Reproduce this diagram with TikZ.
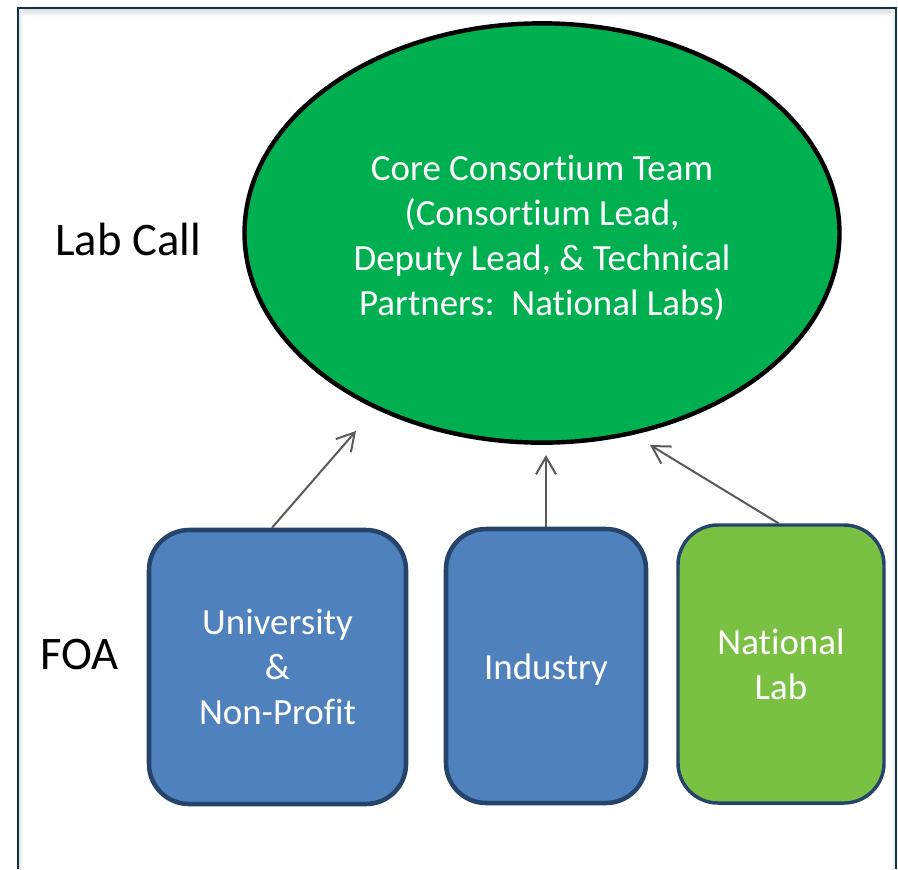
\documentclass[tikz,border=0pt]{standalone}
\usepackage{fontspec}
\setmainfont{Carlito}[Ligatures={NoCommon,NoContextual,NoRare}]
\usetikzlibrary{shapes.geometric,arrows.meta,calc}
\definecolor{framec}{RGB}{14,52,70}
\definecolor{ellfill}{RGB}{0,176,80}
\definecolor{boxblue}{RGB}{79,129,189}
\definecolor{boxgreen}{RGB}{122,193,67}
\definecolor{boxline}{RGB}{38,68,106}
\definecolor{arrc}{RGB}{89,89,89}
\tikzset{
  shapetext/.style={text=white,align=center,font=\fontsize{27.7}{33.75}\selectfont,inner sep=0pt},
  orgbox/.style={shapetext,rectangle,rounded corners=30pt,draw=boxline,fill=boxblue,line width=3.4pt},
  labbox/.style={orgbox,fill=boxgreen,line width=2.6pt},
  core/.style={ellipse,draw=black,fill=ellfill,line width=3.3pt,minimum width=446.25pt,minimum height=314.5pt,inner sep=0pt},
  sidelabel/.style={font=\fontsize{35}{42}\selectfont,inner sep=0pt,anchor=base west},
  arr/.style={draw=arrc,line width=1.5pt,-{Straight Barb[length=13pt,width=15pt]}}
}
\begin{document}
\begin{tikzpicture}[x=0.75pt,y=-0.75pt]
\useasboundingbox (0,0) rectangle (898,869);
% frame with shadow
\shade[top color=black!13,bottom color=white] (19,9) rectangle (895,17);
\shade[left color=black!10,right color=white] (19,9) rectangle (23,869);
\shade[left color=white,right color=black!10] (891,9) rectangle (895,869);
\draw[framec,line width=1.8pt] (18,869) -- (18,8) -- (896,8) -- (896,869);
% shapes
\node[core] (core) at (542,233) {};
\node[shapetext] (coretext) at (542,238) {Core Consor\kern0pt tium Team\\(Consor\kern0pt tium Lead,\\Deputy Lead, \& Tech\kern0pt nical\\Partners:\ \ National Labs)};
\node[orgbox,minimum width=192.75pt,minimum height=205.5pt] (univ) at (277.5,667) {University\\\&\\Non-Profit};
\node[orgbox,minimum width=150pt,minimum height=205.5pt] (ind) at (546,666) {\raisebox{-3pt}[\height][\depth]{Industry}};
\node[labbox,minimum width=154.5pt,minimum height=208.5pt] (nl) at (781,664) {National\\Lab};
% labels
\node[sidelabel] (labcall) at (55,255) {Lab Call};
\node[sidelabel] (foa) at (40,669) {FOA};
% arrows
\coordinate (t1) at (356,431);
\coordinate (t2) at (546,455);
\coordinate (t3) at (650,445);
\draw[arr] ($(univ.north)+(-5.5,0)$) -- (t1);
\draw[arr] (ind.north) -- (t2);
\draw[arr] ($(nl.north)+(-2.5,0)$) -- (t3);
\end{tikzpicture}
\end{document}
